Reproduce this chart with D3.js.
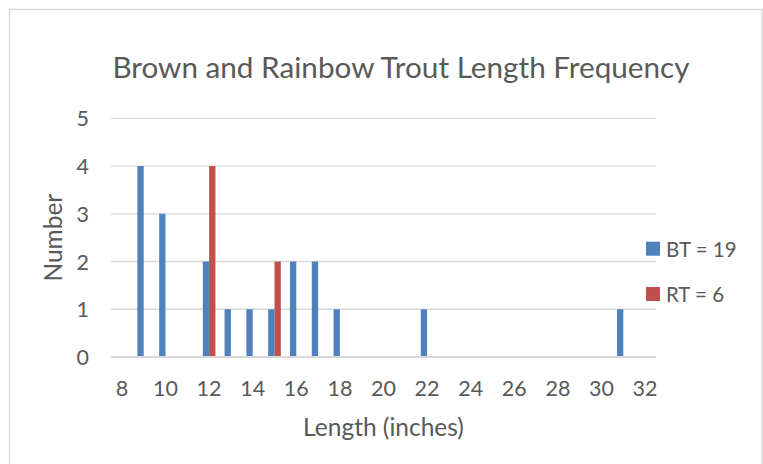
<!DOCTYPE html>
<html>
<head>
<meta charset="utf-8">
<script src="https://cdnjs.cloudflare.com/ajax/libs/d3/7.8.5/d3.min.js"></script>
<style>
  html, body { margin: 0; padding: 0; background: #fff; }
  svg { display: block; }
  text { font-family: Lato, "Open Sans", sans-serif; fill: #595959; }
</style>
</head>
<body>
<svg id="chart" width="763" height="464"></svg>
<script>
// ---- data ----
const categories = [8,9,10,11,12,13,14,15,16,17,18,19,20,21,22,23,24,25,26,27,28,29,30,31,32];
const btValues   = [0,4,3,0,2,1,1,1,2,2,1,0,0,0,1,0,0,0,0,0,0,0,0,1,0];
const rtValues   = [0,0,0,0,4,0,0,2,0,0,0,0,0,0,0,0,0,0,0,0,0,0,0,0,0];
const seriesNames = ["BT = 19", "RT = 6"];
const seriesColors = ["#4f81bd", "#c0504d"];
const yTicks = [0,1,2,3,4,5];
const xTickLabels = [8,10,12,14,16,18,20,22,24,26,28,30,32];
const titleText = "Brown and Rainbow Trout Length Frequency";
const xTitle = "Length (inches)";
const yTitle = "Number";

// ---- layout ----
const W = 763, H = 464;
const plot = { left: 111, right: 656, top: 118.3, bottom: 357 };
const svg = d3.select("#chart");

// chart border
svg.append("rect")
  .attr("x", 9.5).attr("y", 9.5)
  .attr("width", 752.5).attr("height", 480)
  .attr("fill", "#fff").attr("stroke", "#d9d9d9").attr("stroke-width", 1.5);

const x = d3.scaleBand().domain(categories).range([plot.left, plot.right]).padding(0);
const y = d3.scaleLinear().domain([0, 5]).range([plot.bottom, plot.top]);

const groupW = x.bandwidth() * 0.58;
const sub = d3.scaleBand().domain([0, 1])
  .range([(x.bandwidth() - groupW) / 2, (x.bandwidth() + groupW) / 2]).padding(0);

// gridlines
svg.append("g").selectAll("line")
  .data(yTicks.filter(d => d !== 0))
  .join("line")
  .attr("x1", plot.left).attr("x2", plot.right)
  .attr("y1", d => y(d)).attr("y2", d => y(d))
  .attr("stroke", "#d9d9d9").attr("stroke-width", 1.3);

// bars
const series = [btValues, rtValues];
series.forEach((vals, si) => {
  svg.append("g").selectAll("rect")
    .data(categories.map((c, i) => ({ c, v: vals[i] })).filter(d => d.v > 0))
    .join("rect")
    .attr("x", d => x(d.c) + sub(si))
    .attr("width", sub.bandwidth())
    .attr("y", d => y(d.v))
    .attr("height", d => y(0) - y(d.v))
    .attr("fill", seriesColors[si]);
});

// baseline axis
svg.append("line")
  .attr("x1", plot.left).attr("x2", plot.right)
  .attr("y1", y(0)).attr("y2", y(0))
  .attr("stroke", "#d9d9d9").attr("stroke-width", 2);

// y tick labels
svg.append("g").selectAll("text")
  .data(yTicks).join("text")
  .attr("x", 89).attr("y", d => y(d))
  .attr("text-anchor", "end").attr("dominant-baseline", "central")
  .attr("font-size", 21.5)
  .text(d => d);

// x tick labels
svg.append("g").selectAll("text")
  .data(xTickLabels).join("text")
  .attr("x", d => x(d) + x.bandwidth() / 2).attr("y", 396)
  .attr("text-anchor", "middle")
  .attr("font-size", 21.5)
  .text(d => d);

// title
svg.append("text")
  .attr("x", 401).attr("y", 78)
  .attr("text-anchor", "middle")
  .attr("font-size", 29.7)
  .text(titleText);

// x axis title
svg.append("text")
  .attr("x", (plot.left + plot.right) / 2).attr("y", 435.5)
  .attr("text-anchor", "middle")
  .attr("font-size", 24.5)
  .text(xTitle);

// y axis title
svg.append("text")
  .attr("transform", `translate(62,${(plot.top + plot.bottom) / 2}) rotate(-90)`)
  .attr("text-anchor", "middle")
  .attr("font-size", 24.5)
  .text(yTitle);

// legend
const legendY = [248.7, 294];
const lg = svg.append("g").selectAll("g")
  .data(seriesNames).join("g")
  .attr("transform", (d, i) => `translate(646,${legendY[i]})`);
lg.append("rect").attr("x", 0).attr("y", -7).attr("width", 14).attr("height", 14)
  .attr("fill", (d, i) => seriesColors[i]);
lg.append("text").attr("x", 20).attr("y", 0)
  .attr("dominant-baseline", "central")
  .attr("font-size", 20.5)
  .text(d => d);
</script>
</body>
</html>
